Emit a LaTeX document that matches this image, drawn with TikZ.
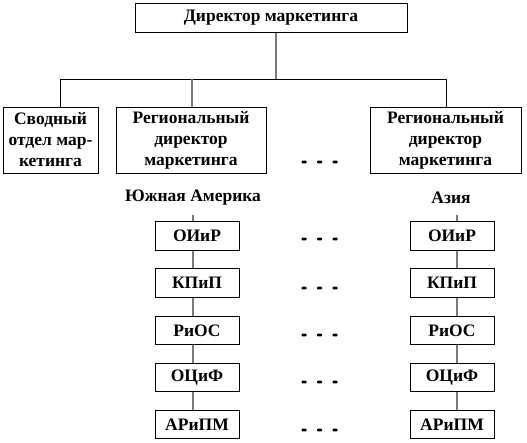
\documentclass[tikz,border=0pt]{standalone}
\usepackage{fontspec}
\setmainfont{Liberation Serif}
\begin{document}
\begin{tikzpicture}[x=1pt,y=-1pt,
  box/.style={draw=black, line width=1pt, inner sep=0pt, align=center,
    font=\fontsize{17.5}{21}\selectfont\bfseries},
  bigbox/.style={box, minimum height=66pt},
  colbox/.style={box, minimum width=84pt, minimum height=28.5pt},
  lbl/.style={inner sep=0pt, font=\fontsize{17.5}{21}\selectfont\bfseries},
  glink/.style={draw=gray!95!black, line width=2pt},
  blink/.style={draw=black, line width=1pt},
  dotmark/.style={fill=black, rounded corners=0.8pt}
]
\useasboundingbox (0,0) rectangle (527,442);
\fill[white] (0,0) rectangle (527,442);

\node[box, minimum width=272pt, minimum height=29pt] (top) at (271,17.5) {Директор маркетинга};

\node[bigbox, minimum width=95pt] (b1) at (50.5,140) {Сводный\\отдел мар-\\кетинга};
\node[bigbox, minimum width=150pt] (b2) at (191,140) {Региональный\\директор\\маркетинга};
\node[bigbox, minimum width=151pt] (b3) at (445.5,140) {Региональный\\директор\\маркетинга};

\coordinate (busL) at (60,79);
\coordinate (busR) at (446,79);
\coordinate (busM) at (276,79);
\coordinate (busC) at (192,79);

\draw[glink] (top.south -| busM) -- (busM);
\draw[blink] (busL) -- (busR);
\draw[blink] (busL) -- (b1.north -| busL);
\draw[glink] (busC) -- (b2.north -| busC);
\draw[blink] (busR) -- (b3.north -| busR);

\node[lbl] (sa) at (193,198) {Южная Америка};
\node[lbl] (as) at (451,198) {Азия};

\coordinate (colL) at (193,215);
\coordinate (colR) at (457,215);

\foreach \i/\y/\t in {1/236/ОИиР, 2/283/КПиП, 3/330.5/РиОС, 4/377.5/ОЦиФ, 5/424.5/АРиПМ}{
  \node[colbox] (l\i) at (197,\y) {\t};
  \node[colbox] (r\i) at (452,\y) {\t};
}

\draw[glink] (colL) -- (l1.north -| colL);
\draw[glink] (colR) -- (r1.north -| colR);
\foreach \a/\b in {1/2,2/3,3/4,4/5}{
  \draw[glink] (l\a.south -| colL) -- (l\b.north -| colL);
  \draw[glink] (r\a.south -| colR) -- (r\b.north -| colR);
}

% dots
\foreach \y in {162,239,288,335,382,430}{
  \foreach \x in {304,319.5,335}{
    \fill[dotmark] (\x-2.5,\y-1.3) rectangle (\x+2.5,\y+1.3);
  }
}
\end{tikzpicture}
\end{document}
